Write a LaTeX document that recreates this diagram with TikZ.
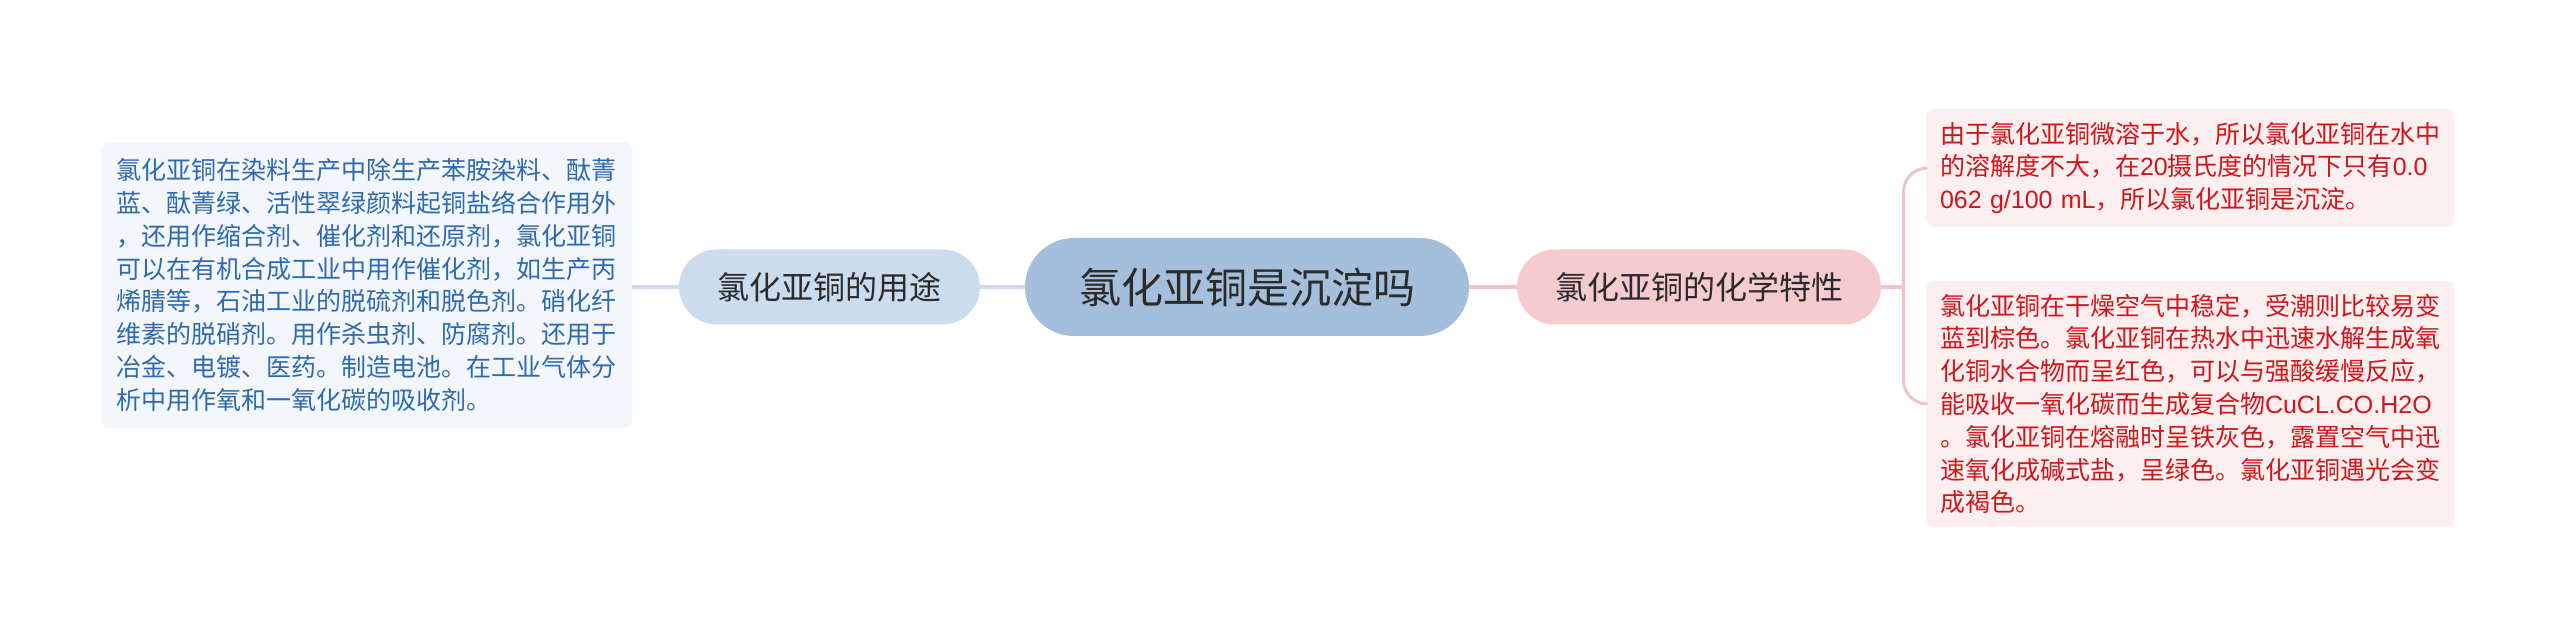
\documentclass[tikz,border=0pt]{standalone}
\usepackage{fontspec}
\setmainfont{Noto Sans CJK SC}
\newfontfamily\lat{Liberation Sans}
\definecolor{centerfill}{HTML}{A3BFDB}
\definecolor{leftfill}{HTML}{CADCEE}
\definecolor{rightfill}{HTML}{F5CBCE}
\definecolor{lboxfill}{HTML}{F3F7FC}
\definecolor{lboxtext}{HTML}{2E6AB1}
\definecolor{rboxfill}{HTML}{FCEFF0}
\definecolor{rboxtext}{HTML}{D0161B}
\definecolor{lline}{HTML}{CFDCE8}
\definecolor{rline}{HTML}{F0C5C8}
\definecolor{darktext}{HTML}{2B2B2B}
\tikzset{
  rootnode/.style={fill=centerfill, text=darktext, rounded corners=24.5pt, minimum width=222pt, minimum height=49pt, inner sep=0pt, font=\fontsize{21pt}{25pt}\selectfont},
  lbranch/.style={fill=leftfill, text=darktext, rounded corners=18.75pt, minimum width=150.5pt, minimum height=37.5pt, inner sep=0pt, font=\fontsize{16pt}{19pt}\selectfont},
  rbranch/.style={fill=rightfill, text=darktext, rounded corners=18.75pt, minimum width=182pt, minimum height=37.5pt, inner sep=0pt, font=\fontsize{16pt}{19pt}\selectfont},
  lleaf/.style={fill=lboxfill, text=lboxtext, rounded corners=4pt, align=left, text width=250pt, inner xsep=7.75pt, inner ysep=0pt, font=\fontsize{12.5pt}{16.4pt}\selectfont},
  rleaf/.style={fill=rboxfill, text=rboxtext, rounded corners=4pt, align=left, text width=250pt, inner xsep=7pt, inner ysep=0pt, font=\fontsize{12.5pt}{16.4pt}\selectfont},
  lconn/.style={draw=lline, line width=2pt},
  rconn/.style={draw=rline, line width=2pt},
  rbrace/.style={draw=rline, line width=1.5pt, rounded corners=12pt},
}
\begin{document}
\begin{tikzpicture}[x=0.5pt,y=-0.5pt]
\useasboundingbox (0,0) rectangle (2560,640);
\node[rootnode] (c) at (1247,287) {氯化亚铜是沉淀吗};
\node[lbranch] (ln) at (829.5,287) {氯化亚铜的用途};
\node[rbranch] (rn) at (1699,287) {氯化亚铜的化学特性};
\node[lleaf, minimum height=143pt] (lb) at (366.5,285) {氯化亚铜在染料生产中除生产苯胺染料、酞菁\\蓝、酞菁绿、活性翠绿颜料起铜盐络合作用外\\，还用作缩合剂、催化剂和还原剂，氯化亚铜\\可以在有机合成工业中用作催化剂，如生产丙\\烯腈等，石油工业的脱硫剂和脱色剂。硝化纤\\维素的脱硝剂。用作杀虫剂、防腐剂。还用于\\冶金、电镀、医药。制造电池。在工业气体分\\析中用作氧和一氧化碳的吸收剂。};
\node[rleaf, minimum height=59pt] (rt) at (2190,168) {由于氯化亚铜微溶于水，所以氯化亚铜在水中\\的溶解度不大，在{\lat 20}摄氏度的情况下只有{\lat 0.0}\\{\lat 062 g/100 mL}，所以氯化亚铜是沉淀。};
\node[rleaf, minimum height=123pt] (rb) at (2190,404) {氯化亚铜在干燥空气中稳定，受潮则比较易变\\蓝到棕色。氯化亚铜在热水中迅速水解生成氧\\化铜水合物而呈红色，可以与强酸缓慢反应，\\能吸收一氧化碳而生成复合物{\lat CuCL.CO.H2O}\\。氯化亚铜在熔融时呈铁灰色，露置空气中迅\\速氧化成碱式盐，呈绿色。氯化亚铜遇光会变\\成褐色。};
\draw[lconn] (lb.east |- ln.west) -- (ln.west);
\draw[lconn] (ln.east) -- (c.west);
\draw[rconn] (c.east) -- (rn.west);
\draw[rconn] (rn.east) -- ++(22,0) coordinate (j);
\draw[rbrace] (j) |- (rt.west);
\draw[rbrace] (j) |- (rb.west);
\end{tikzpicture}
\end{document}
